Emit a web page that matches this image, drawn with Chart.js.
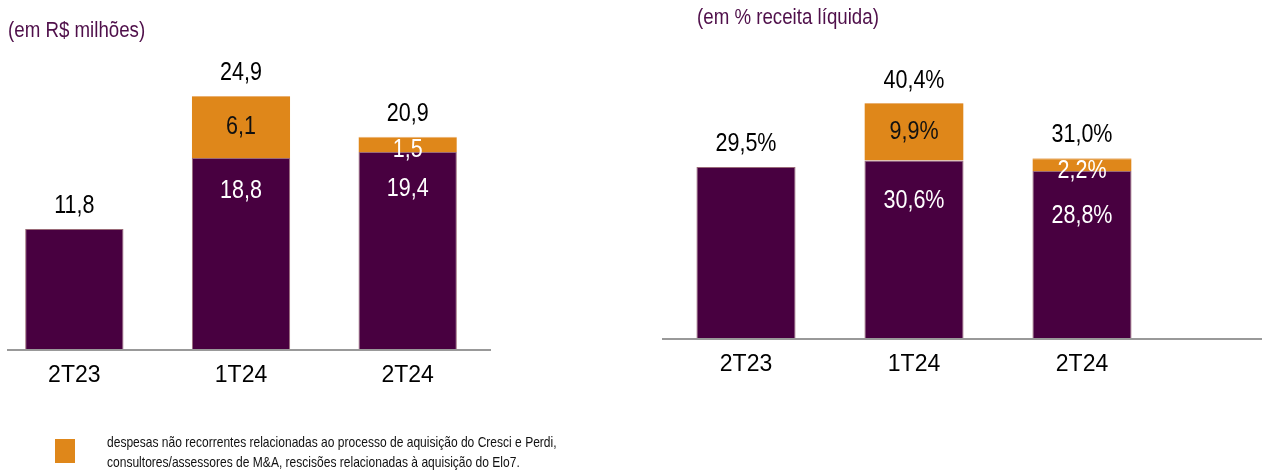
<!DOCTYPE html>
<html>
<head>
<meta charset="utf-8">
<script src="https://cdn.jsdelivr.net/npm/chart.js@4.4.1/dist/chart.umd.min.js"></script>
<style>
  body { margin: 0; background: #fff; width: 1262px; height: 472px; overflow: hidden; position: relative; font-family: "Liberation Sans", Arial, sans-serif; }
  .box { position: absolute; top: 0; height: 472px; }
  .titulo { position: absolute; color: #4f0f4a; font-size: 22px; white-space: nowrap; transform: scaleX(0.85); transform-origin: left top; }
  .nota { position: absolute; left: 55px; top: 432px; font-size: 14.5px; line-height: 20px; color: #111; }
  .nota .quadrado { position: absolute; left: 0; top: 7px; width: 20px; height: 24px; background: #df871a; }
  .nota .txt { position: absolute; left: 52px; top: 0; white-space: nowrap; transform: scaleX(0.83); transform-origin: left top; }
</style>
</head>
<body>
<div class="box" style="left:-9px; width:620px;"><canvas id="graficoReais"></canvas></div>
<div class="box" style="left:640px; width:622px;"><canvas id="graficoPct"></canvas></div>
<div class="titulo" style="left:8px; top:17px;">(em R$ milhões)</div>
<div class="titulo" style="left:697px; top:4px;">(em % receita líquida)</div>
<div class="nota">
  <div class="quadrado"></div>
  <div class="txt">despesas não recorrentes relacionadas ao processo de aquisição do Cresci e Perdi,<br>consultores/assessores de M&amp;A, rescisões relacionadas à aquisição do Elo7.</div>
</div>

<script>
// dados
var trimestres = ['2T23', '1T24', '2T24'];

var reaisRecorrente = [11.8, 18.8, 19.4];
var reaisNaoRecorrente = [0, 6.1, 1.5];
var reaisTotal = [11.8, 24.9, 20.9];

var pctRecorrente = [29.5, 30.6, 28.8];
var pctNaoRecorrente = [0, 9.9, 2.2];
var pctTotal = [29.5, 40.4, 31.0];

var roxo = '#480040';
var laranja = '#df871a';
var fonte = '"Liberation Sans", Arial, sans-serif';

function fmt(v, casas, sufixo) {
    return v.toFixed(casas).replace('.', ',') + sufixo;
}

// texto um pouco condensado, como no original
function texto(ctx, t, x, y, cor) {
    ctx.save();
    ctx.translate(x, y);
    ctx.scale(0.86, 1);
    ctx.fillStyle = cor;
    ctx.fillText(t, 0, 0);
    ctx.restore();
}

// rotulos e linha de base
var rotulosPlugin = {
    id: 'rotulos',
    afterDatasetsDraw: function (chart, args, opts) {
        var ctx = chart.ctx;
        var yScale = chart.scales.y;
        var base = yScale.getPixelForValue(0);
        ctx.save();
        // linha do eixo
        ctx.strokeStyle = '#999999';
        ctx.lineWidth = 2;
        ctx.beginPath();
        ctx.moveTo(opts.linhaX1, base + 1);
        ctx.lineTo(opts.linhaX2, base + 1);
        ctx.stroke();

        ctx.font = '25px ' + fonte;
        ctx.textAlign = 'center';
        ctx.textBaseline = 'middle';
        var m0 = chart.getDatasetMeta(0);
        var m1 = chart.getDatasetMeta(1);
        for (var i = 0; i < trimestres.length; i++) {
            var b0 = m0.data[i];
            var b1 = m1.data[i];
            var x = b0.x;
            var topo = yScale.getPixelForValue(opts.total[i]);
            texto(ctx, fmt(opts.total[i], 1, opts.sufixo), x, topo - 23, '#000');
            var extra = opts.extra[i];
            if (extra > 0) {
                var alt = b0.y - b1.y;
                if (alt > 25) {
                    texto(ctx, fmt(extra, 1, opts.sufixo), x, (b0.y + b1.y) / 2, '#111');
                    texto(ctx, fmt(opts.rec[i], 1, opts.sufixo), x, b0.y + opts.desloc, '#fff');
                } else {
                    texto(ctx, fmt(extra, 1, opts.sufixo), x, b1.y + 13, '#fff');
                    texto(ctx, fmt(opts.rec[i], 1, opts.sufixo), x, b0.y + opts.desloc + 4, '#fff');
                }
            }
        }
        ctx.restore();
    }
};

function criar(id, rec, extra, total, sufixo, yMax, padTopo, alturaEixo, linha, padEsq, padDir, desloc) {
    return new Chart(document.getElementById(id), {
        type: 'bar',
        data: {
            labels: trimestres,
            datasets: [{
                label: 'recorrente',
                data: rec,
                backgroundColor: roxo,
                borderColor: '#9a6a78',
                borderWidth: { top: 1, left: 1, right: 1, bottom: 0 },
                borderSkipped: false
            }, {
                label: 'não recorrente',
                data: extra,
                backgroundColor: laranja,
                borderColor: '#eab070',
                borderWidth: { top: 1, left: 0, right: 0, bottom: 0 },
                borderSkipped: false
            }]
        },
        options: {
            responsive: true,
            maintainAspectRatio: false,
            animation: false,
            layout: { padding: { top: padTopo, left: padEsq, right: padDir, bottom: 0 } },
            datasets: { bar: { categoryPercentage: 1, barPercentage: 0.59 } },
            plugins: {
                legend: { display: false },
                tooltip: { enabled: false },
                rotulos: { total: total, extra: extra, rec: rec, sufixo: sufixo, linhaX1: linha[0], linhaX2: linha[1], desloc: desloc }
            },
            scales: {
                x: {
                    stacked: true,
                    grid: { display: false, drawTicks: false },
                    border: { display: false },
                    ticks: { color: '#000', font: { size: 23, family: fonte }, padding: 13 },
                    afterFit: function (s) { s.height = alturaEixo; }
                },
                y: {
                    stacked: true,
                    display: false,
                    min: 0,
                    max: yMax
                }
            }
        },
        plugins: [rotulosPlugin]
    });
}

// grafico em R$ : base em y=349, 10,16 px por unidade
criar('graficoReais', reaisRecorrente, reaisNaoRecorrente, reaisTotal, '', 30, 349 - 30 * 10.16, 123, [16, 500], 0, 120, 33);
// grafico em % : base em y=338, 5,8 px por unidade
criar('graficoPct', pctRecorrente, pctNaoRecorrente, pctTotal, '%', 50, 338 - 50 * 5.8, 134, [22, 622], 22, 96, 41);
</script>
</body>
</html>
